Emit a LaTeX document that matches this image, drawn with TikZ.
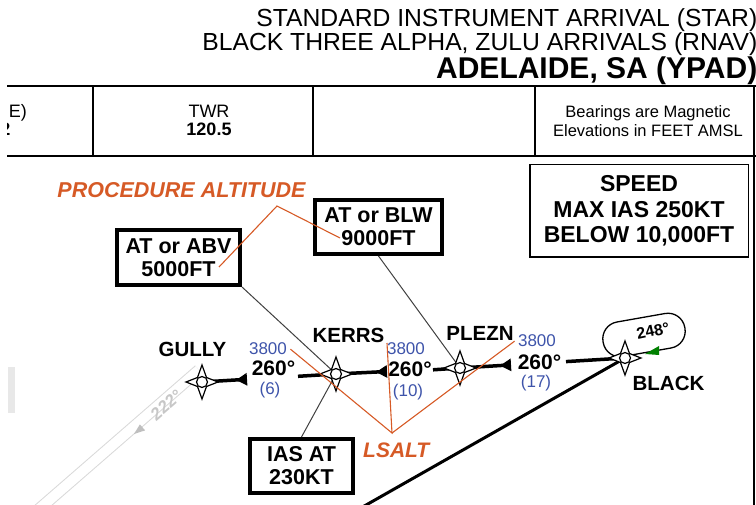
\documentclass[tikz,border=0pt]{standalone}
\usepackage{fontspec}
\setmainfont{Liberation Sans}
\usetikzlibrary{arrows.meta}
\definecolor{procred}{RGB}{214,90,38}
\definecolor{altblue}{RGB}{62,84,170}
\tikzset{
    route/.style={line width=3.5pt}, % 航线
    leader/.style={black!75, line width=1pt}, % 指引线
    remark/.style={procred, line width=1.1pt}, % 注释线
    altbox/.style={draw, line width=4pt, align=center, inner sep=0pt, font=\fontsize{21.5}{23}\selectfont\bfseries}, % 高度限制框
    fixname/.style={anchor=base, font=\fontsize{20.5}{22}\selectfont\bfseries}, % 航路点名称
    track/.style={anchor=base, font=\fontsize{21}{22}\selectfont\bfseries}, % 航向
    lsalt/.style={anchor=base, text=altblue, font=\fontsize{17}{18}\selectfont}, % 最低安全高度与距离
    faded/.style={black!15, line width=1pt} % 背景中淡化的航线
}

\begin{document}
\begin{tikzpicture}[x=1pt, y=-1pt]
    \def\W{756} \def\H{505}
    \useasboundingbox (0,0) rectangle (\W,\H);

    % 背景
    \fill[black!9] (8,367) rectangle (15,413);
    \draw[faded, double, double distance=10pt] (38,510) -- (199,370);
    \node[rotate=41, text=black!22, font=\fontsize{17}{18}\selectfont\bfseries\itshape] (oldtrk) at (166,405) {222°};
    \fill[black!25] (134,434) -- (145.1,430.4) -- (139.9,424.4) -- cycle;

    % 标题
    \node[anchor=base east, inner sep=0pt, font=\fontsize{24.7}{26}\selectfont] (title) at (757.5,27) {STANDARD INSTRUMENT ARRIVAL (STAR)};
    \node[anchor=base east, inner sep=0pt, font=\fontsize{24.7}{26}\selectfont] (subtitle) at (757.5,51) {BLACK THREE ALPHA, ZULU ARRIVALS (RNAV)};
    \node[anchor=base east, inner sep=0pt, font=\fontsize{30}{32}\selectfont\bfseries] (place) at (757.5,79) {ADELAIDE, SA (YPAD)};

    % 表格
    \draw[line width=2pt] (7,86) -- (\W,86);
    \draw[line width=2pt] (7,156) -- (\W,156);
    \foreach \x in {93,313,535} {\draw[line width=1.8pt] (\x,86) -- (\x,156);}
    \draw[line width=1.5pt] (754,86) -- (754,\H);
    \node[anchor=base east, inner sep=0pt, font=\fontsize{18}{20}\selectfont] (atis) at (27,118) {E)};
    \begin{scope}
        \clip (7,100) rectangle (20,145);
        \node[anchor=base east, inner sep=0pt, font=\fontsize{18}{20}\selectfont\bfseries] (atisfreq) at (10.5,136) {2};
    \end{scope}
    \node[anchor=base, font=\fontsize{18}{20}\selectfont] (twr) at (209,118) {TWR};
    \node[anchor=base, font=\fontsize{18}{20}\selectfont\bfseries] (twrfreq) at (209,136) {120.5};
    \node[anchor=base, font=\fontsize{16.5}{18}\selectfont] (bearings) at (648,118) {Bearings are Magnetic};
    \node[anchor=base, font=\fontsize{16.5}{18}\selectfont] (elev) at (648,137) {Elevations in FEET AMSL};

    % 航路点
    \coordinate (gully) at (202,382);
    \coordinate (kerrs) at (336,374);
    \coordinate (plezn) at (460,368);
    \coordinate (blackfix) at (625,358);
    \coordinate (a1) at (247,379.3); \coordinate (b1) at (298,376.3);
    \coordinate (a2) at (387,371.5); \coordinate (b2) at (433,369.8);
    \coordinate (a3) at (511,364.9); \coordinate (b3) at (566,361.6);
    \coordinate (final) at (352,513);

    \draw[route, -{Triangle[reversed, length=11pt, width=12pt]}] (gully) -- (a1);
    \draw[route] (b1) -- (kerrs);
    \draw[route, -{Triangle[reversed, length=11pt, width=12pt]}] (kerrs) -- (a2);
    \draw[route] (b2) -- (plezn);
    \draw[route, -{Triangle[reversed, length=11pt, width=12pt]}] (plezn) -- (a3);
    \draw[route] (b3) -- (blackfix);
    \draw[line width=3pt] (blackfix) -- (final);

    % 限制框
    \node[altbox, minimum width=123pt, minimum height=55pt] (abv) at (178.5,257.5) {AT or ABV\\5000FT};
    \node[altbox, minimum width=127pt, minimum height=54pt] (blw) at (378.5,227) {AT or BLW\\9000FT};
    \node[altbox, minimum width=103pt, minimum height=54pt] (ias) at (301.5,466) {IAS AT\\230KT};
    \node[draw, line width=1.5pt, align=center, inner sep=0pt, minimum width=218.5pt, minimum height=92.5pt, font=\fontsize{23}{25.5}\selectfont\bfseries] (speed) at (639,211) {SPEED\\MAX IAS 250KT\\BELOW 10,000FT};

    \draw[leader] (abv.south east) -- (kerrs);
    \draw[leader] (blw.south) -- (plezn);
    \draw[leader] (ias.north) -- (kerrs);

    % 等待航线
    \node[draw, line width=1.3pt, rounded corners=17pt, minimum width=83pt, minimum height=35pt, rotate=10] (hold) at (644,335) {};
    \node[rotate=12, font=\fontsize{16}{17}\selectfont\bfseries] (inbound) at (653,331) {248°};
    \fill[green!50!black] (645,354) -- (659,346) -- (659,355) -- cycle;

    \foreach \w in {gully,kerrs,plezn,blackfix} {
        \begin{scope}[shift={(\w)}]
            \filldraw[fill=white, line width=1.2pt, line join=miter] (0,-17) -- (4.5,-4.5) -- (16,0) -- (4.5,4.5) -- (0,17) -- (-4.5,4.5) -- (-16,0) -- (-4.5,-4.5) -- cycle;
            \filldraw[fill=white, line width=1.2pt] (0,0) circle (5.5);
        \end{scope}
    }

    % 标注
    \node[track] (trk1) at (273.5,376) {260°};
    \node[track] (trk2) at (410,377) {260°};
    \node[track] (trk3) at (539.5,370) {260°};
    \node[lsalt] (alt1) at (268,355) {3800};
    \node[lsalt] (alt2) at (406,355) {3800};
    \node[lsalt] (alt3) at (537,347) {3800};
    \node[lsalt] (dist1) at (270,395) {(6)};
    \node[lsalt] (dist2) at (408,396) {(10)};
    \node[lsalt] (dist3) at (536,388) {(17)};

    \node[fixname] (gullyname) at (192.5,357) {GULLY};
    \node[fixname] (kerrsname) at (348.5,343) {KERRS};
    \node[fixname] (pleznname) at (480,341) {PLEZN};
    \node[fixname] (blackname) at (668.5,391) {BLACK};

    \node[anchor=base, text=procred, font=\fontsize{21.5}{23}\selectfont\bfseries\itshape] (proc) at (181.5,198) {PROCEDURE ALTITUDE};
    \coordinate (pv) at (277,206);
    \coordinate (pa) at (219,267);
    \coordinate (pb) at (340,238);
    \draw[remark] (pa) -- (pv) -- (pb);

    \node[anchor=base west, inner sep=0pt, text=procred, font=\fontsize{21}{23}\selectfont\bfseries\itshape] (lsaltnote) at (363,457) {LSALT};
    \coordinate (lv) at (392,433);
    \coordinate (l2) at (387,343);
    \draw[remark] (alt1.east) -- (lv) -- (l2);
    \draw[remark] (lv) -- (alt3.west);
\end{tikzpicture}
\end{document}
